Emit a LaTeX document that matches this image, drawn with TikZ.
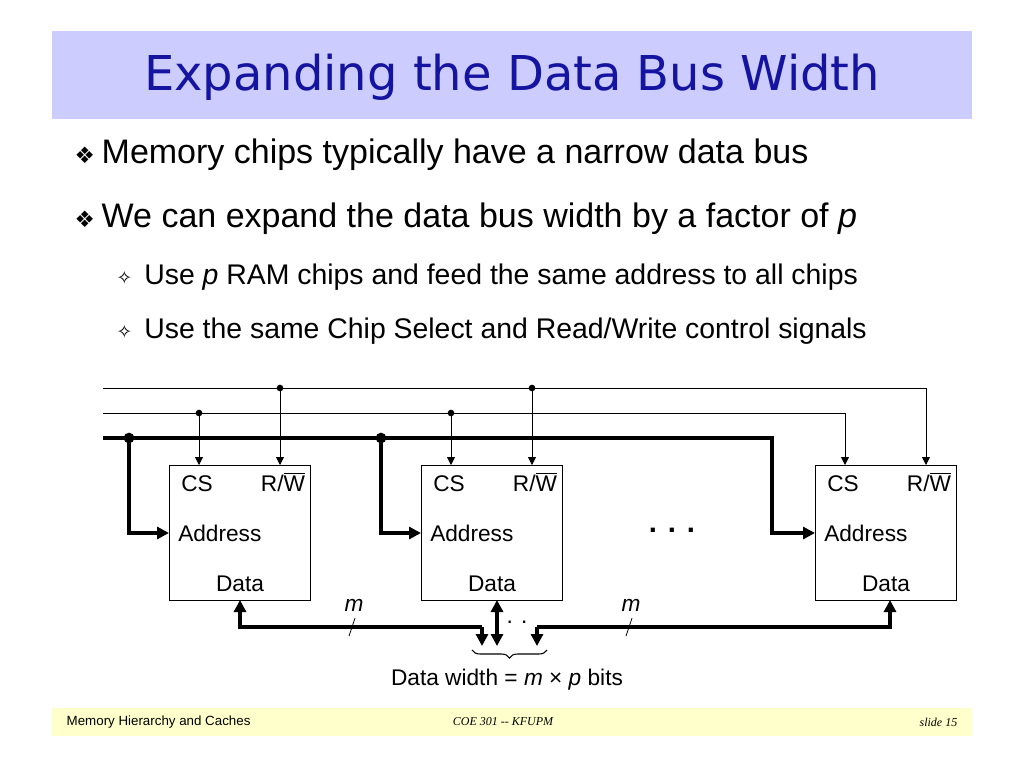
\documentclass[tikz,border=0pt]{standalone}
\usepackage{fontspec}
\setmainfont{Liberation Sans}
\newfontfamily\serifit{Liberation Serif}
\newfontfamily\titlefont{DejaVu Sans}
\usetikzlibrary{positioning,decorations.pathreplacing,arrows.meta}
\definecolor{titleband}{RGB}{204,204,255}
\definecolor{footband}{RGB}{255,255,204}
\definecolor{titleblue}{RGB}{20,20,160}
\tikzset{
  chip/.style={draw,line width=0.6pt,minimum width=105.75pt,minimum height=101.25pt,inner sep=0pt},
  pin/.style={font=\fontsize{17}{17}\selectfont,inner sep=0pt},
  ctrl/.style={line width=0.6pt},
  bus/.style={line width=3pt},
  tip/.style={-{Triangle[length=6pt,width=6pt]}},
  btip/.style={-{Triangle[length=9pt,width=9pt]}},
  dot/.style={circle,fill,inner sep=0pt,minimum size=#1},
}
\begin{document}
\begin{tikzpicture}[x=0.75pt,y=0.75pt,yscale=-1,xscale=1]
\useasboundingbox (0,0) rectangle (1024,768);

%title and footer bands
\fill[titleband] (52,31) rectangle (972,119);
\node[text=titleblue,font=\titlefont\fontsize{36}{36}\selectfont] (title) at (512,77) {Expanding the Data Bus Width};
\fill[footband] (52,708) rectangle (972,736);
\node[anchor=west,font=\fontsize{10}{10}\selectfont] (foot1) at (62,722) {Memory Hierarchy and Caches};
\node[font=\serifit\itshape\fontsize{9}{9}\selectfont] (foot2) at (503,722) {COE 301 -- KFUPM};
\node[anchor=east,font=\serifit\itshape\fontsize{9}{9}\selectfont] (foot3) at (962,722) {slide 15};

%bullets
\node[anchor=west,font=\fontsize{25.5}{25.5}\selectfont] (b1) at (70,155) {{\titlefont\fontsize{17}{17}\selectfont ❖}\hspace{5pt}Memory chips typically have a narrow data bus};
\node[anchor=west,font=\fontsize{25.5}{25.5}\selectfont] (b2) at (70,219) {{\titlefont\fontsize{17}{17}\selectfont ❖}\hspace{5pt}We can expand the data bus width by a factor of \textit{p}};
\node[anchor=west,font=\fontsize{21.3}{21.3}\selectfont] (b3) at (112,277) {{\titlefont\fontsize{14}{14}\selectfont ✧}\hspace{9pt}Use \textit{p} RAM chips and feed the same address to all chips};
\node[anchor=west,font=\fontsize{21.3}{21.3}\selectfont] (b4) at (112,331) {{\titlefont\fontsize{14}{14}\selectfont ✧}\hspace{9pt}Use the same Chip Select and Read/Write control signals};

%chips
\foreach \n/\x in {A/169,B/421,C/815}{
  \node[chip,anchor=north west] (chip\n) at (\x,465) {};
  \node[pin,anchor=base] (cs\n) at (\x+28,491) {CS};
  \node[pin,anchor=base] (rw\n) at (\x+114,491) {R/$\overline{\mbox{W}}$};
  \node[pin,anchor=base west] (addr\n) at (\x+9,541) {Address};
  \node[pin,anchor=base] (data\n) at (\x+71,591) {Data};
  \coordinate (in\n) at (\x,533);
  \coordinate (csin\n) at (\x+30,465);
  \coordinate (rwin\n) at (\x+111,465);
}
\coordinate (doutA) at (240,600);
\coordinate (doutB) at (497,600);
\coordinate (doutC) at (890,600);
\node[font=\bfseries\fontsize{22}{22}\selectfont] (more) at (672,530) {. . .};

%control lines
\coordinate (rwL) at (103,388);
\coordinate (csL) at (103,413);
\coordinate (adL) at (103,438);
\draw[ctrl,tip] (rwL) -| (rwinC);
\draw[ctrl,tip] (csL) -| (csinC);
\foreach \n in {A,B}{
  \draw[ctrl,tip] (rwin\n |- rwL) node[dot=5pt]{} -- (rwin\n);
  \draw[ctrl,tip] (csin\n |- csL) node[dot=5pt]{} -- (csin\n);
}
%address bus
\draw[bus,btip] (adL) -- (772,438) |- (inC);
\foreach \n/\x in {A/129,B/381}{
  \node[dot=8pt] (j\n) at (\x,438) {};
  \draw[bus,btip] (j\n.center) |- (in\n);
}

%data bus
\coordinate (mA) at (482,646);
\coordinate (mB) at (doutB |- mA);
\coordinate (mC) at (537,646);
\draw[bus,btip] (mA |- 0,627) -- (mA);
\draw[bus,btip] (mA |- 0,627) -| (doutA);
\draw[bus,{Triangle[length=9pt,width=9pt]}-{Triangle[length=9pt,width=9pt]}] (doutB) -- (mB);
\draw[bus,btip] (mC |- 0,627) -- (mC);
\draw[bus,btip] (mC |- 0,627) -| (doutC);
\draw[ctrl] (349,636) -- (355,618);
\draw[ctrl] (626,636) -- (632,618);
\node[pin,font=\itshape\fontsize{17}{17}\selectfont] (m1) at (354,605) {m};
\node[pin,font=\itshape\fontsize{17}{17}\selectfont] (m2) at (631,605) {m};
\node[pin] (gap) at (517,622) {. .};
\draw[decorate,decoration={brace,mirror,amplitude=6pt},line width=0.8pt] (472,650) -- (547,650);
\node[pin] (width) at (507,680) {Data width = \textit{m} × \textit{p} bits};
\end{tikzpicture}
\end{document}
